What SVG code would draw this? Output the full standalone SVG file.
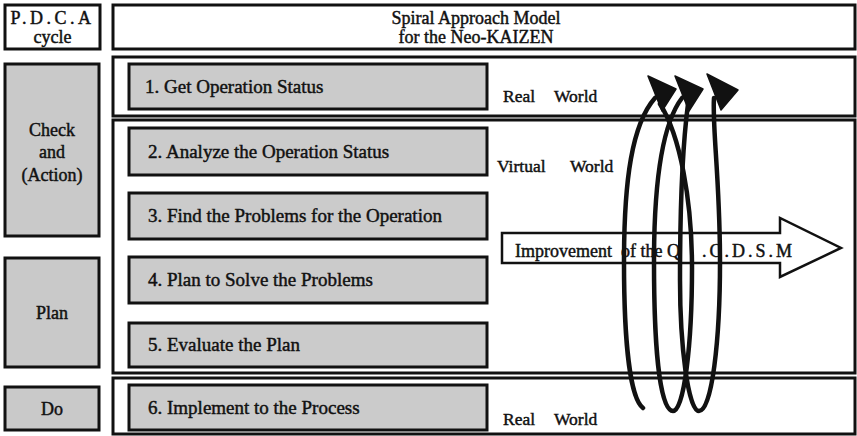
<svg xmlns="http://www.w3.org/2000/svg" width="857" height="436" viewBox="0 0 857 436">
  <style>
    .frame { fill: #ffffff; stroke: #111111; stroke-width: 3; }
    .phase { fill: #c9c9c9; stroke: #111111; stroke-width: 3; }
    .step { fill: #cbcbcb; stroke: #111111; stroke-width: 3; }
    .txt { font-family: "Liberation Serif", "Times New Roman", serif; fill: #111111; stroke: #111111; stroke-width: 0.45; }
    .lbl { font-size: 19px; }
    .side { font-size: 18px; text-anchor: middle; }
    .head { font-size: 18px; text-anchor: middle; }
    .world { font-size: 17.5px; }
    .loop { fill: none; stroke: #111111; stroke-width: 4.5; stroke-linecap: round; }
    .tip { fill: #111111; stroke: #111111; stroke-width: 1.5; stroke-linejoin: round; }
  </style>
  <rect width="857" height="436" fill="#ffffff"/>

  <!-- left column: PDCA phases -->
  <g id="pdca-title">
    <rect class="frame" x="5" y="5" width="95" height="44"/>
    <text class="txt side" x="52.5" y="24" font-size="17" letter-spacing="3.5">P.D.C.A</text>
    <text class="txt side" x="52.5" y="43" font-size="17">cycle</text>
  </g>
  <g id="phase-check">
    <rect class="phase" x="5" y="64" width="94" height="172"/>
    <text class="txt side" x="52" y="136">Check</text>
    <text class="txt side" x="52" y="158">and</text>
    <text class="txt side" x="52" y="181">(Action)</text>
  </g>
  <g id="phase-plan">
    <rect class="phase" x="5" y="258" width="94" height="109"/>
    <text class="txt side" x="52" y="319">Plan</text>
  </g>
  <g id="phase-do">
    <rect class="phase" x="5" y="387" width="94" height="43"/>
    <text class="txt side" x="52" y="415">Do</text>
  </g>

  <!-- right column: model title and world frames -->
  <g id="model-title">
    <rect class="frame" x="113" y="5" width="742" height="44"/>
    <text class="txt head" x="476" y="24">Spiral Approach Model</text>
    <text class="txt head" x="476" y="43">for the Neo-KAIZEN</text>
  </g>
  <g id="real-world-top">
    <rect class="frame" x="113" y="57" width="742" height="59"/>
    <text class="txt world" y="102"><tspan x="503">Real</tspan><tspan x="554">World</tspan></text>
  </g>
  <g id="virtual-world">
    <rect class="frame" x="113" y="120" width="742" height="253"/>
    <text class="txt world" y="172"><tspan x="497">Virtual</tspan><tspan x="570">World</tspan></text>
  </g>
  <g id="real-world-bottom">
    <rect class="frame" x="113" y="378" width="742" height="56"/>
    <text class="txt world" y="425"><tspan x="503">Real</tspan><tspan x="554">World</tspan></text>
  </g>

  <!-- steps -->
  <g id="step-1">
    <rect class="step" x="129" y="64" width="358" height="45"/>
    <text class="txt lbl" x="145" y="93">1. Get Operation Status</text>
  </g>
  <g id="step-2">
    <rect class="step" x="129" y="128" width="358" height="47"/>
    <text class="txt lbl" x="148" y="158">2. Analyze the Operation Status</text>
  </g>
  <g id="step-3">
    <rect class="step" x="129" y="193" width="358" height="46"/>
    <text class="txt lbl" x="148" y="222">3. Find the Problems for the Operation</text>
  </g>
  <g id="step-4">
    <rect class="step" x="129" y="257" width="358" height="46"/>
    <text class="txt lbl" x="148" y="286">4. Plan to Solve the Problems</text>
  </g>
  <g id="step-5">
    <rect class="step" x="129" y="323" width="358" height="44"/>
    <text class="txt lbl" x="148" y="351">5. Evaluate the Plan</text>
  </g>
  <g id="step-6">
    <rect class="step" x="129" y="385" width="358" height="45"/>
    <text class="txt lbl" x="148" y="414">6. Implement to the Process</text>
  </g>

  <!-- improvement arrow -->
  <g id="improvement">
    <polygon points="502,233 780,233 780,218 841,248 780,277 780,263 502,263" fill="#ffffff" stroke="#111111" stroke-width="2.5" stroke-linejoin="miter"/>
    <text class="txt" font-size="18" y="257"><tspan x="515">Improvement</tspan><tspan x="621">of the Q</tspan><tspan x="702" letter-spacing="3">.C.D.S.M</tspan></text>
  </g>

  <!-- spiral coil: three turns, each ending in a filled head -->
  <g id="connectors">
    <path class="loop" d="M643,408 C630,398 624,340 624,262 C624,180 632,124 655,98"/>
    <path class="loop" d="M660,104 C680,135 692,200 692,268 C692,345 684,411 673,411 C659,411 654,340 654,262 C654,182 662,124 682,98"/>
    <path class="loop" d="M688,104 C682,150 680,220 680,280 C680,345 688,411 699,411 C712,411 720,340 720,262 C720,180 712,126 714,98"/>
    <polygon class="tip" points="648,76 676,89 662,111"/>
    <polygon class="tip" points="675,76 703,89 689,111"/>
    <polygon class="tip" points="707,74 738,90 721,110"/>
  </g>
</svg>
